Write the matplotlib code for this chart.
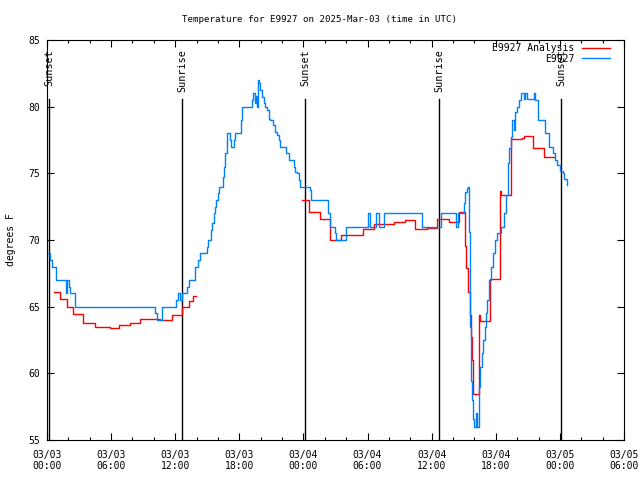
import datetime
import numpy as np
import matplotlib
matplotlib.use('Agg')
import matplotlib.pyplot as plt
from matplotlib.ticker import MultipleLocator, FuncFormatter

plt.rcParams['font.family'] = ['DejaVu Sans Mono']
plt.rcParams['font.size'] = 6.8

base = datetime.datetime(2025, 3, 3, 0, 0)

# hours after 03/03 00:00 UTC, observed temperature (degF)
obs_hours = [0.12, 0.28, 0.44, 0.80, 1.75, 1.86, 2.03, 2.16, 2.62, 10.12, 10.31, 10.72,
             12.09, 12.23, 12.47, 12.61, 13.10, 13.27, 13.87, 14.11, 14.34, 14.97, 15.09,
             15.35, 15.44, 15.59, 15.69, 15.84, 16.00, 16.12, 16.47, 16.59, 16.69, 16.85,
             17.09, 17.25, 17.47, 17.62, 18.16, 18.28, 19.19, 19.31, 19.50, 19.59, 19.66,
             19.72, 19.85, 19.97, 20.13, 20.28, 20.44, 20.59, 20.75, 20.91, 21.16, 21.31,
             21.53, 21.68, 21.84, 22.41, 22.62, 23.09, 23.25, 23.41, 23.56, 23.72, 24.59,
             24.72, 26.32, 26.44, 26.91, 27.00, 28.00, 30.07, 30.22, 30.75, 31.03, 31.53,
             35.09, 36.89, 38.30, 38.48, 39.03, 39.16, 39.28, 39.44, 39.50, 39.59, 39.66,
             39.75, 39.87, 39.97, 40.12, 40.25, 40.41, 40.53, 40.69, 40.85, 41.00, 41.13,
             41.22, 41.37, 41.53, 41.78, 41.97, 42.16, 42.53, 42.78, 42.94, 43.15, 43.25,
             43.47, 43.56, 43.72, 43.81, 43.97, 44.15, 44.34, 44.62, 44.78, 44.93, 45.28,
             45.59, 45.66, 45.91, 46.62, 47.00, 47.38, 47.53, 47.75, 48.00, 48.25, 48.41,
             48.63]
obs_temp = [69.0, 68.5, 68.0, 67.0, 66.0, 67.0, 66.5, 66.0, 65.0, 64.5, 64.0, 65.0,
            65.5, 66.0, 65.5, 66.0, 66.5, 67.0, 68.0, 68.5, 69.0, 69.5, 70.0,
            70.75, 71.25, 72.0, 72.5, 73.0, 73.5, 74.0, 74.75, 75.5, 76.5, 78.0,
            77.5, 77.0, 77.5, 78.0, 79.0, 80.0, 80.5, 81.0, 80.3, 80.8, 80.0,
            82.0, 81.75, 81.25, 80.75, 80.25, 80.0, 79.75, 79.1, 79.0, 78.6, 78.1,
            77.9, 77.5, 77.0, 76.5, 76.0, 75.5, 75.1, 75.0, 74.5, 74.0, 73.75,
            73.0, 72.0, 71.0, 70.5, 70.0, 71.0, 72.0, 71.0, 72.0, 71.0, 72.0,
            71.0, 72.0, 71.0, 72.0, 72.75, 73.6, 73.9, 74.0, 70.6, 63.5, 59.4,
            58.0, 56.6, 56.0, 57.0, 56.0, 59.0, 60.5, 61.5, 62.5, 63.5, 64.5,
            65.5, 67.0, 68.0, 69.0, 70.0, 70.5, 71.0, 72.0, 73.4, 75.75, 76.9,
            77.75, 79.0, 78.25, 79.6, 80.0, 80.5, 81.0, 80.6, 81.0, 80.6, 80.6,
            81.0, 80.5, 79.0, 78.0, 77.0, 76.5, 76.0, 75.6, 75.2, 75.0, 74.6,
            74.1]

# analysis series (NaN = gap)
ana_hours = [0.66, 1.22, 1.85, 2.47, 3.40, 4.50, 5.90, 6.70, 7.80, 8.70, 10.10, 10.60,
             11.70, 12.60, 13.25, 13.70, 13.90, 13.95,
             23.91, 24.50, 25.53, 26.44, 27.47, 27.56, 28.57, 29.56, 30.59, 32.47, 33.50,
             34.43, 35.53, 36.53, 37.62, 38.56, 39.12, 39.22, 39.44, 39.56, 39.66, 39.75,
             39.87, 40.43, 40.50, 41.47, 42.40, 42.52, 43.47, 44.50, 44.62, 45.50, 46.47,
             47.46]
ana_temp = [66.1, 65.6, 65.0, 64.45, 63.8, 63.5, 63.4, 63.6, 63.8, 64.1, 64.1, 64.0,
            64.4, 64.95, 65.4, 65.8, 65.8, np.nan,
            73.0, 72.1, 71.55, 70.0, 70.2, 70.35, 70.4, 70.8, 71.2, 71.37, 71.5,
            70.8, 70.9, 71.55, 71.37, 72.1, 69.55, 67.9, 66.1, 64.4, 62.75, 61.0,
            58.45, 64.4, 63.9, 67.1, 73.7, 73.4, 77.6, 77.65, 77.8, 76.9, 76.2,
            76.2]

sun_hours = [0.22, 12.68, 24.19, 36.68, 48.12]
sun_labels = ['Sunset', 'Sunrise', 'Sunset', 'Sunrise', 'Sunset']

fig = plt.figure(figsize=(6.4, 4.8), dpi=100)
ax = fig.add_axes([47 / 640, 40 / 480, 577 / 640, 400 / 480])

for h, lab in zip(sun_hours, sun_labels):
    ax.plot([h, h], [55, 80.57], color='black', lw=1)
    ax.text(h, 84.3, lab, rotation=90, ha='center', va='top', fontsize=7.3)

ax.plot(ana_hours, ana_temp, color='#ff0000', lw=1, drawstyle='steps-post',
        label='E9927 Analysis')
ax.plot(obs_hours, obs_temp, color='#0080ff', lw=1, drawstyle='steps-post',
        label='E9927')

ax.set_xlim(0, 54)
ax.set_ylim(55, 85)
ax.xaxis.set_major_locator(MultipleLocator(6))
ax.xaxis.set_minor_locator(MultipleLocator(2))
ax.yaxis.set_major_locator(MultipleLocator(5))
ax.xaxis.set_major_formatter(FuncFormatter(
    lambda v, p: (base + datetime.timedelta(hours=v)).strftime('%m/%d\n%H:%M')))
ax.tick_params(which='both', direction='in', top=True, right=True, width=0.8)
ax.tick_params(which='major', length=5, labelsize=7, pad=7)
ax.tick_params(axis='y', which='major', pad=5)
ax.tick_params(which='minor', length=2.5)
for s in ax.spines.values():
    s.set_linewidth(0.8)

ax.set_ylabel('degrees F', fontsize=7, labelpad=9)
fig.suptitle('Temperature for E9927 on 2025-Mar-03 (time in UTC)', y=0.968, fontsize=6.6)

ax.legend(loc='upper right', markerfirst=False, frameon=False, fontsize=7,
          handlelength=2.8, borderaxespad=0.1, borderpad=0.2, labelspacing=0.1,
          handletextpad=0.8, bbox_to_anchor=(0.98, 1.0))

fig.savefig('out.png', dpi=100)
